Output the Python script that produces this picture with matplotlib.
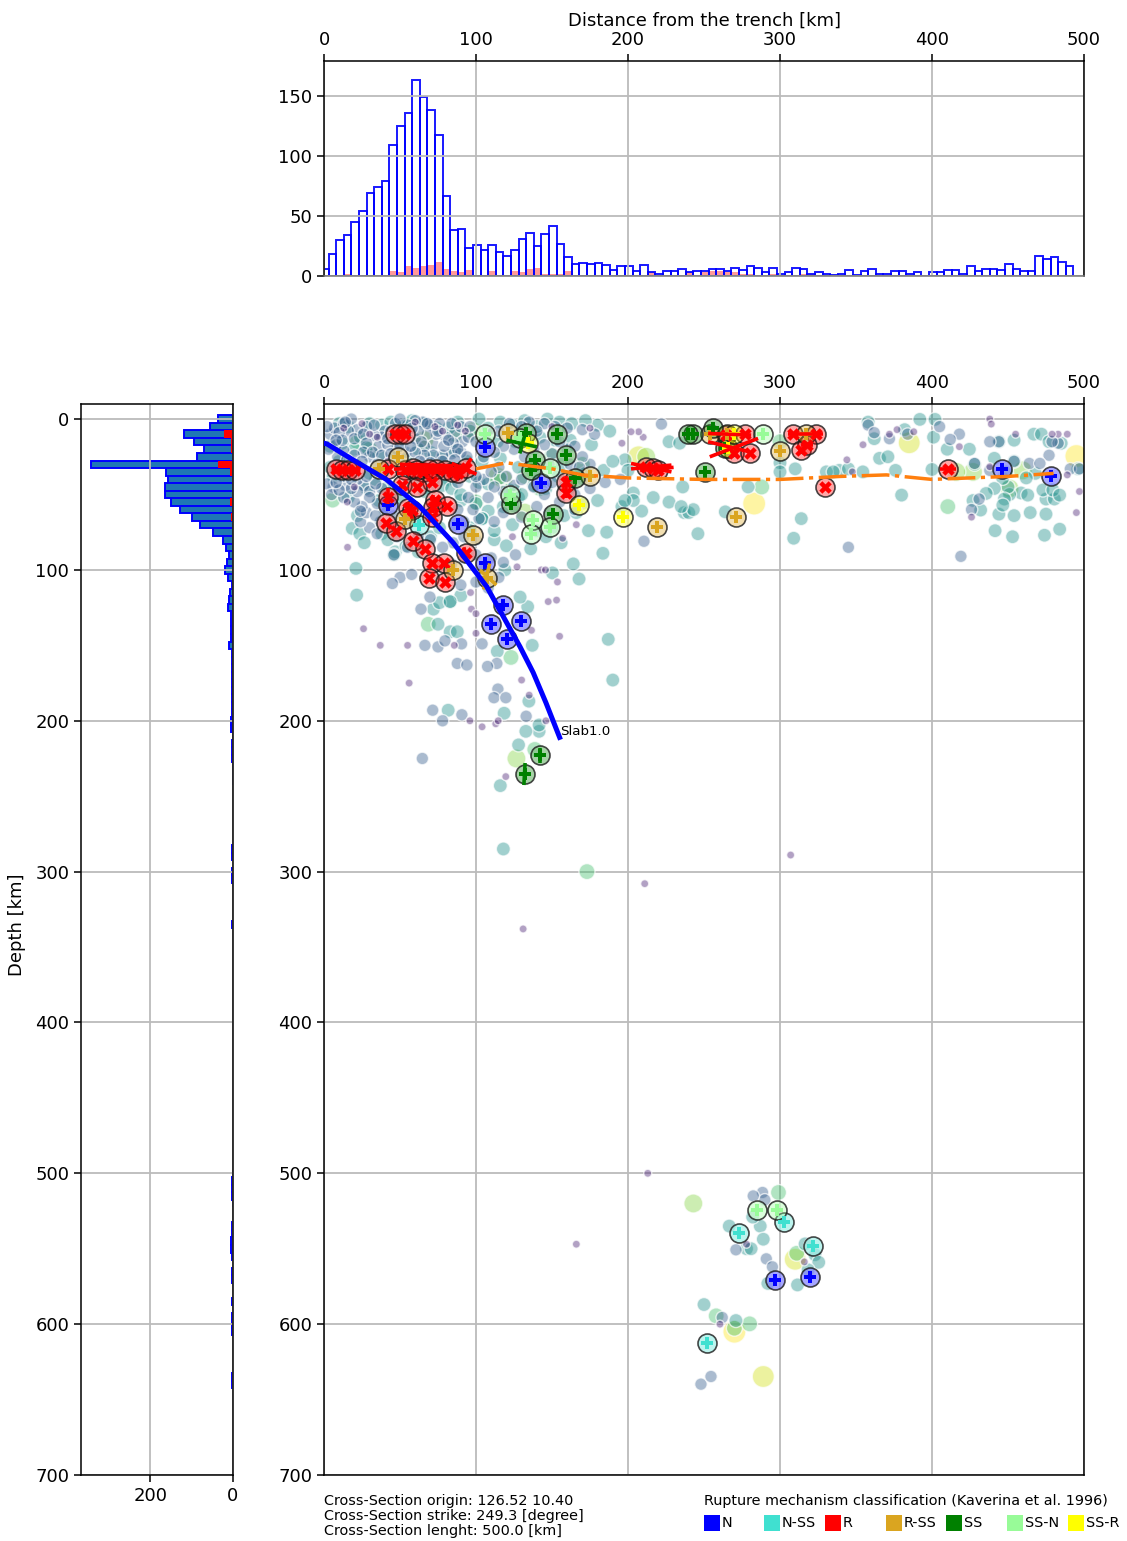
import matplotlib
matplotlib.use("Agg")
import matplotlib.pyplot as plt
from matplotlib.patches import Rectangle
import numpy as np

W, H = 1127, 1541
plt.rcParams['font.family'] = 'DejaVu Sans'

# ---------- histograms ----------
dist_hist_counts = [6,18,30,34,45,54,69,74,79,109,125,136,163,149,138,117,67,38,39,23,26,22,26,20,17,22,31,36,25,35,42,27,16,10,11,10,11,9,5,8,
                    8,4.5,9,3,2,4,4,6,3,4,4,6,6,4,7,5,8,7,3,7,2,3,7,6,2,3,2,1,2,5,1,4,6,2,2,4,4,2,3,0,3,3,5,5,2,8,4,6,6,5,10,6,4.5,4,17,14.5,16,12,8]
dist_hist_red = [0,0,1,2,1,1,0,0,0,4.5,3,8,7,8,9,12,6,4,3,5,0,0,4,0,0,4,3,6,7,2,2,2,4,0,1,0,0,0,0,0,
                 0,0,0,3,1,0,0,1,3,1,3,4,4,3,3,2,2,1,0,2,1,0,1,2,2,1,0,0,0,0,0,0,0,0,0,0,0,0,0,0,0,0,0,0,0,0,0,0,0,0,0,0,0,0,0,0,0,0,0]
depth_hist_centres = [0,5,10,15,20,25,30,35,40,45,50,55,60,65,70,75,80,85,90,95,100,105,110,115,120,125,130,135,140,145,150,155,160,165,170,175,180,185,190,195,200,205,210,215,220,225,230,235,240,285,290,300,305,335,500,505,510,515,520,535,540,545,550,555,565,570,585,595,600,605,635,640]
depth_hist_counts = [36,55,118,95,69,86,343,161,158,165,164,149,128,99,79,48,23,18,10,15,20,13,2,7,9,13,5,5,6,4,10,3,3,3,3,2,2,2,3,3,5,4,1,2,2,2,1,1,1,2,2,2,2,2,1,3,3,3,1,3,3,5,5,2,2,2,2,3,3,2,3,3]
depth_hist_red = [0,0,21,5,4,1,36,8,2,3,2,7,3,5,2,0,0,0,0,0,0,0,0,0,0,0,0,0,0,0,0,0,0,0,0,0,0,0,0,0,0,0,0,0,0,0,0,0,0,0,0,0,0,0,0,0,0,0,0,0,0,0,0,0,0,0,0,0,0,0,0,0]

# ---------- catalogue dots (distance km, depth km), grouped by magnitude class ----------
purple = [(13,6),(25,3),(35,12),(60,2),(73,5),(78,8),(88,4),(93,8),(30,10),(49,14),(20,45),(42,28),(110,8),(150,5),(175,6),
 (202,8.4),(207,8.4),(210,12),(196,16),(354.6,17),(344,27),(347.6,35),(377,7),(388,8.4),(372,10),(438,0),(439,3.3),(455,10),(479,10),(483,10),(489,10),
 (418,18.3),(438,31.6),(489,37),(497,48),(495,62),(426,65),
 (55,150),(85.7,150),(56,175),(96,200),(104,204),(113,202),(114.6,200),(135,183),(130,173),(155,144),(136.5,140),(147.5,121),(153,120),(153.6,108),
 (127,98),(143,100),(145.7,100),(96.4,115),(97,126),(100,129),(100,142),(146,200),(119.6,237),(26,139),(15.5,85),(15.3,55),(166,70),(157,79),(124,78),
 (307,289),(211,308),(131,338),(213,500),(166,547),(316,558.7),(278,547),(260.5,600),(37,150)]

bluegrey = [(18,0),(13,3),(7,6),(4,10),(10,9),(16,8),(22,7),(28,5),(33,4),(26,10),(20,13),(12,14),(33,11),(38,12),(40,8),(47,3),(50,0),(55,4),(60,1),(65,2),(70,4),(76,3),(84,3),(90,5),
 (62,8),(68,10),(74,10),(80,12),(86,9),(60,13),(66,18),(72,17),(79,18),(85,16),(91,15),(28,16),(36,18),(42,17),(48,20),(54,22),(60,22),(66,24),(72,24),(78,24),(84,23),(90,22),(20,24),(26,22),(13,21),(8,17),
 (2,43),(6,45),(10,47),(14,44),(18,46),(22,48),(26,44),(30,48),(34,43),(38,46),(5,50),(13,52),(20,55),(25,58),(30,52),(35,56),(28,62),(34,64),(40,60),(24,68),(30,72),(37,68),(43,70),(46,64),(50,72),(55,68),(60,66),
 (88,42),(100,45),(95,52),(98,60),(102,66),(92,68),(88,60),(108,52),(105,40),(112,45),(118,48),(125,44),(100,38),(110,35),(115,32),(120,38),(130,40),(138,45),(145,50),(150,42),(158,45),(165,50),(170,40),(175,46),(185,42),(195,40),
 (105,25),(112,22),(118,18),(125,20),(132,25),(138,20),(145,17),(150,23),(155,15),(160,20),(165,18),(170,25),(175,30),(168,32),(162,30),(148,30),(115,8),(122,3),(130,5),(135,2),(140,8),(145,3),(152,5),(160,6),(170,7),(178,10),
 (112,68),(118,62),(125,58),(130,65),(140,58),(148,62),(155,55),(165,60),(100,80),(92,78),(85,82),(78,85),(70,80),(62,78),(55,85),(48,78),(100,90),(92,92),(84,96),(110,92),(118,95),(126,90),(105,100),(115,105),(108,112),(100,108),(90,110),
 (222,3.3),(210.5,81),(345,85),(419,91),(362,9),(358,4),(418,10),(412,13.5),(405,5),(438,15),(372,13),(384,10),(444,15),(479,15),(471,29.4),(428,29.4),(431,53),(426,60),(438,34),(454,28),(464,29.4),(477,24),(483,16),(491,33),(497,33),
 (69.7,118),(63.8,126),(66.4,150),(75,151),(79.6,147),(90.5,149),(87.7,162),(94,163),(107.6,164),(113.7,162),(104,149),(114.4,179),(111.8,184.7),(119.6,184.7),(71.5,193),(90.7,196),(78,200),(64.7,225),(50,105),(45,109),(57.7,103),(133,197),
 (282.4,515),(288.5,512.7),(290,517.6),(271,550.7),(291,556.7),(295,562),(262,595.6),(248,639.8),(254.6,634.7),
 (2,5),(8,14),(14,2),(21,30),(30,25),(44,8),(52,14),(58,6),(64,15),(68,3),(75,8),(82,14),(88,20),(95,12),(35,76),(46,90),(12,38),(18,40),(24,61),
 (3,20),(9,25),(15,27),(25,28),(32,22),(38,24),(44,23),(35,30),(28,38),(22,40),(8,42),(42,13),(50,18),(57,18),(63,28),(70,29),(78,28),(86,27),(94,25),(100,15),(96,5)]

teal = [(227,15),(234,16),(236,45),(216.6,52),(227,55),(235,58),(237,62),(240,62),(243,60),(246,76),(209,61),(203.5,49),(203.5,54),(198,54),(196,58),(198,27),(200,34),(310,33),(300,29),(300,35),(330.5,35),(335,35),(339,34),(345,33),(354.5,35),(365.5,26),(371,25),(376,34),(380,50.4),(314,66),(309,79),(279,45),(264,61.5),
 (401,12),(410,20),(424.6,20),(400,33.4),(428,30),(441,26),(358,2),(382,7),(392,0.2),(402,0.2),(362,13),(444,15),(454,14),(467,10),(472,10),(477,15),(485,16),
 (441,46),(435.6,49.3),(427,54),(432,60.3),(444,63),(447.6,53),(446.6,57),(454,64),(464.6,62),(475,63),(441.5,74),(453,78),(474,77),(484,73),(450,45),(462,39),(458.6,49),(463,50.4),(451,50),(475,53),(480.5,53),(468,36),(473,47),(479.5,47),(484,50.4),(496,33),(446.5,39.3),(449,35),(454,28),
 (72,126),(76,121.7),(83,121),(90,117),(83,141),(87.7,141),(75,136),(81.7,193),(118.5,195),(134.8,187),(114,154),(137,150),(187,146),(190,173),(167.8,106),(164,96),(150.3,102),(119,100),(132.8,207),(141.5,207),(141.5,202.8),(128,216),(116,243),(21.5,116.7),(21,99),(18.6,72.5),(23.6,76),(26.5,82),(22,64),(38,76),(42,80),(47,88),(83,121),(134,124.4),(129,118),(183.5,89),(186,75),
 (266.6,535),(287,535),(282,529),(289,543.7),(278,550),(281,550),(311.5,574),(316.5,546.8),(323,554),(325.5,559),(318.5,564),(292,573),(250,587),(271,597.6),(118,285),
 (10,3),(16,5),(24,12),(30,3),(38,4),(44,2),(52,5),(58,1),(66,3),(74,6),(82,6),(88,2),(96,8),(102,0),(108,6),(116,2),(124,4),(132,1),(140,5),(147,0),(155,2),(163,3),(172,1),(180,4),(188,8),
 (4,18),(12,16),(20,20),(28,19),(36,24),(46,26),(54,27),(62,20),(70,22),(78,26),(86,21),(94,28),(106,14),(114,15),(126,15),(134,13),(142,12),(152,14),(162,14),(176,17),
 (58,42),(66,48),(72,40),(78,44),(84,46),(90,50),(96,38),(102,42),(108,43),(116,39),(122,47),(130,50),(138,44),(146,46),(154,38),(162,45),(50,52),(44,50),(40,60),(36,54),
 (90,54),(100,56),(108,61),(118,58),(128,52),(96,72),(104,66),(112,74),(124,70),(140,74),(150,72),(158,64),(170,56),(180,54),
 (46,90),(54,84),(62,88),(70,78),(76,72),(86,70),(96,74),(104,66),(112,80),(120,84),(136,86),(146,78),(156,82),(166,62),(174,74),
 (4,32),(10,28),(30,36),(34,40),(6,38),(16,52),(28,46),(40,46),(62,36),(70,46),(82,40),(104,28),(116,26),(128,32),(140,36),(156,30),(172,36),(184,34),(190,28)]

green = [(288,45),(410.4,58),(311,553),(258,594.5),(270,602.7),(280,599.8),(173,300),(299,512.7),(138.7,219),(123,158),(68.6,136),(5.7,53.7),(132,38),(142,46),(10,36),(22,15),(30,20),(55,4),(86,10),(100,55),(125,48),(150,24),(170,30),(300,15)]

lime = [(243,520),(416,35),(427,35),(451,46),(459.7,34),(212,25),(126.6,225),(114,38),(98,8),(118,40),(66,14),(132,62)]

chartreuse = [(385,15.7),(207,25),(310,557),(289,634.7)]

yellow = [(283,56),(495,24.5),(270,605)]

dot_classes = [purple, bluegrey, teal, green, lime, chartreuse, yellow]
class_mag = [4.0, 4.45, 4.9, 5.35, 5.6, 5.85, 6.0]

# ---------- focal mechanisms per class ----------
fm = {
 'R': [(47,10),(50,10),(53,10),(8,33),(11.6,33.8),(16,34),(20.4,34),(42,33),(53,33.8),(58.7,32.7),(65,35),(74,33),(79.5,34),(84,35),(61,34),(69,33),(88,36),(71,41.5),(51.5,44),(61.3,45),(42,51.5),(73,53.7),(72,58),(80.6,57.5),(55.4,59),(57.6,60),(71,65),(41,68.7),(47.3,74),(58.3,81),(66.4,86.4),(71,95.7),(78.8,95.7),(93.3,89),(69,105.4),(79.5,108.3),(93.7,32.7),(159,41.5),(159,49.3),
       (212,31.6),(216.6,32.7),(220,34),(264.8,10.6),(277,10),(270,22.8),(280,22.8),(308.6,10),(324,10),(314,20.5),(318,17),(329.4,45),(410.8,33)],
 'R-SS': [(49,25.4),(36.3,33),(53,66),(98,77),(85,100),(107,105.6),(121,9.5),(175,38),(254,10),(265,10),(317,10),(299.8,21),(271,65),(219,71.3)],
 'N': [(42,57),(88,69.6),(106,95.7),(106,18.3),(118,123),(110,136),(129.4,133.7),(120.7,146),(143,42.6),(446,33),(478,38),(297,571),(320,569)],
 'N-SS': [(62.6,70.3),(302.5,532.6),(273,539.7),(321.4,548),(252,612.6)],
 'SS': [(133,9.5),(153.5,10),(159,24),(139,27),(136.5,33.8),(165,39.3),(123.3,56),(150.7,63.2),(243,10),(239.6,10),(256,6),(250.5,35),(263.7,19.5),(142,223),(132.5,235)],
 'SS-N': [(106,10),(129,12.8),(148.5,32.7),(122.2,50),(137.5,67),(148.5,71.4),(136.5,76.5),(289,10),(284.6,524),(297.7,524)],
 'SS-R': [(134,16),(167.7,57),(197,65),(266,19),(269.6,10)],
}
mech_names = ['N', 'N-SS', 'R', 'R-SS', 'SS', 'SS-N', 'SS-R']
mech_colors = ['blue', 'turquoise', 'red', 'goldenrod', 'green', 'palegreen', 'yellow']

# long projected nodal strokes (x0,y0,x1,y1)
strokes = {
 'red': [(87,40.4,97,26),(84,29.4,100.3,36.5),(202,29.4,228.6,35),(202,33,228.6,30.5),(208,34,230,32),
         (252.7,9.5,281,10.6),(252.7,15,280,21.7),(253.8,25,285.6,12.8),(305,10,328,10),(314,17,322,17),(405,33,416,33),
         (46,33,90,33),(48,36,88,35),(50,30,85,31),(5,33,24,34),(5,35,24,35),(45,10,55,10),(42,46,42,56),(55,55,58,66),(72,50,72,62),(70,53,76,53),(92,85,94,92),(159,38,159,52)],
 'goldenrod': [(102.5,100,113.4,110),(105,113,109,95.7)],
 'green': [(128.8,22.8,133,7.3),(120,14,140,18.4),(132.3,228,131.5,242.6),(142,218,142,228)],
}

slab_x = [0,2,19,41,63,85,107,129,137.6,146,155]
slab_y = [16,16.5,27,40,58,82,111,151,168,188,211]
orange_x = [100,120,135,150,170,200,250,300,340,370,400,450,480]
orange_y = [33,29,31,33,37,39,40,40,38,37,40,38,36]

# ---------- figure ----------
fig = plt.figure(figsize=(W/100, H/100), dpi=100)

def box(x0, y0, x1, y1):
    return [x0/W, 1-y1/H, (x1-x0)/W, (y1-y0)/H]

FS = 13
LW = 1.1
GRID = dict(color='#bbbbbb', linewidth=1.3)

ax_top = fig.add_axes(box(324, 61, 1084, 276))
ax_left = fig.add_axes(box(81, 404, 233, 1475))
ax = fig.add_axes(box(324, 404, 1084, 1475))

for a in (ax_top, ax_left, ax):
    for s in a.spines.values():
        s.set_linewidth(LW)
    a.grid(True, **GRID)
    a.tick_params(labelsize=FS, width=LW, length=5)

# top histogram
edges = -2 + 5*np.arange(len(dist_hist_counts))
ax_top.bar(edges, dist_hist_red, width=5, align='edge', color='red', alpha=0.4, linewidth=0)
ax_top.bar(edges, dist_hist_counts, width=5, align='edge', fill=False, edgecolor='blue', linewidth=1.4, alpha=0.9)
ax_top.set_xlim(0, 500)
ax_top.set_ylim(0, 179)
ax_top.set_yticks([0, 50, 100, 150])
ax_top.set_xticks(range(0, 501, 100))
ax_top.xaxis.tick_top()
ax_top.xaxis.set_label_position('top')
ax_top.set_xlabel('Distance from the trench [km]', fontsize=FS, labelpad=4)
ax_top.spines['bottom'].set_color('#777777')

# left histogram
ax_left.barh(depth_hist_centres, depth_hist_counts, height=5, color='tab:blue', edgecolor='blue', linewidth=1.4)
ax_left.barh(depth_hist_centres, depth_hist_red, height=5, color='red', linewidth=0)
ax_left.set_xlim(368, 0)
ax_left.set_ylim(700, -10)
ax_left.set_xticks([200, 0])
ax_left.set_yticks(range(0, 701, 100))
ax_left.set_ylabel('Depth [km]', fontsize=FS)
ax_left.yaxis.set_label_coords(-0.36, 0.5135)

# main section
ax.set_xlim(0, 500)
ax.set_ylim(700, -10)
ax.set_xticks(range(0, 501, 100))
ax.set_yticks(range(0, 701, 100))
ax.xaxis.tick_top()

class_d = [8, 12.5, 14, 16, 19, 22, 23]
all_x, all_y, all_m, all_s = [], [], [], []
for pts, m, d in zip(dot_classes, class_mag, class_d):
    all_x += [p[0] for p in pts]; all_y += [p[1] for p in pts]
    all_m += [m]*len(pts); all_s += [(d*0.72)**2]*len(pts)
all_x, all_y, all_m, all_s = map(np.array, (all_x, all_y, all_m, all_s))
order = np.argsort(-all_s)
norm = matplotlib.colors.Normalize(3.8, 6.0)
face = matplotlib.colormaps['viridis'](norm(all_m[order]))
face[:, 3] = 0.42
ax.scatter(all_x[order], all_y[order], facecolors=face, s=all_s[order],
           edgecolors=[(1, 1, 1, 0.7)], linewidths=1.0, zorder=2)

# focal mechanisms
for name, col in zip(mech_names, mech_colors):
    xs = [p[0] for p in fm[name]]
    ys = [p[1] for p in fm[name]]
    ax.scatter(xs, ys, s=(19*0.72)**2, facecolors='white', edgecolors='none', alpha=0.55, zorder=3)
    ax.scatter(xs, ys, s=(19*0.72)**2, facecolors=matplotlib.colors.to_rgba(col, 0.35),
               edgecolors=(0.1, 0.1, 0.1, 0.8), linewidths=1.2, zorder=3.1)
    ax.scatter(xs, ys, s=(12.5*0.72)**2, marker='P' if name != 'R' else 'X', c=col, linewidths=0, zorder=3.2)

for col, segs in strokes.items():
    for x0, y0, x1, y1 in segs:
        ax.plot([x0, x1], [y0, y1], color=col, lw=2.6, solid_capstyle='butt', zorder=3.3)

ax.plot(orange_x, orange_y, color='tab:orange', lw=2.5, dashes=(8, 1.6, 1.2, 1.6), zorder=4)
ax.plot(slab_x, slab_y, color='blue', lw=3.6, zorder=5)
ax.text(155.5, 207, 'Slab1.0', fontsize=9.6, ha='left', va='center', zorder=6)

# footer
for y, s in zip([1501, 1516, 1531], ['Cross-Section origin: 126.52 10.40',
                                     'Cross-Section strike: 249.3 [degree]',
                                     'Cross-Section lenght: 500.0 [km]']):
    fig.text(324/W, 1-y/H, s, fontsize=10.4, ha='left', va='center')
fig.text(704/W, 1-1501/H, 'Rupture mechanism classification (Kaverina et al. 1996)', fontsize=10.4, ha='left', va='center')
for name, col, px in zip(mech_names, mech_colors, [704, 764, 825, 886, 946, 1007, 1068]):
    fig.add_artist(Rectangle((px/W, 1-1531/H), 16/W, 16/H, transform=fig.transFigure, facecolor=col, edgecolor='none'))
    fig.text((px+18)/W, 1-1523/H, name, fontsize=10.4, ha='left', va='center')

fig.savefig('out.png', dpi=100)
